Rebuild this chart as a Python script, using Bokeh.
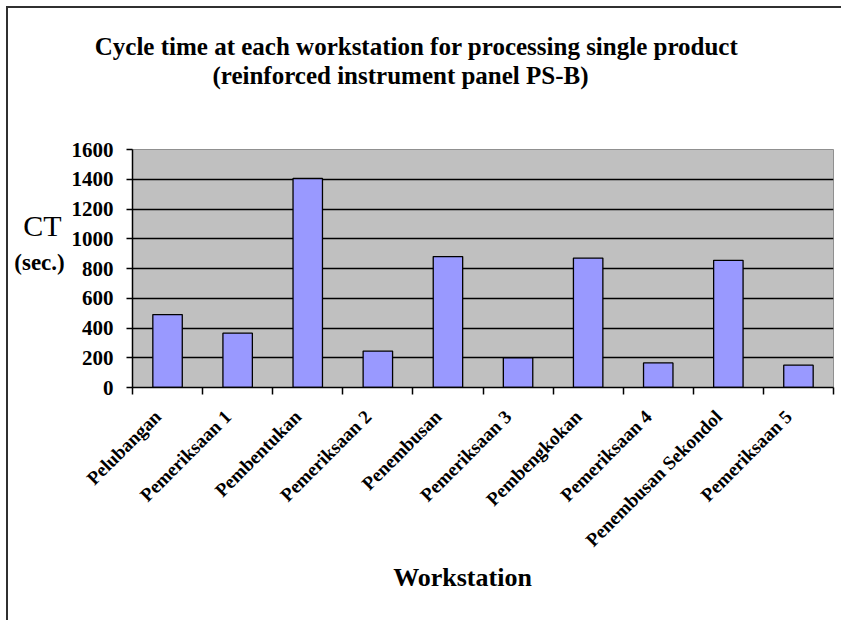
import numpy as np
from math import pi
from bokeh.plotting import figure
from bokeh.layouts import column, row
from bokeh.models import Range1d, FixedTicker, Label
from bokeh.embed import file_html
from bokeh.resources import INLINE

# ---- data ----
stations = ["Pelubangan", "Pemeriksaan 1", "Pembentukan", "Pemeriksaan 2",
            "Penembusan", "Pemeriksaan 3", "Pembengkokan", "Pemeriksaan 4",
            "Penembusan Sekondol", "Pemeriksaan 5"]
ct_sec = [490, 365, 1405, 245, 880, 200, 870, 165, 855, 150]
y_ticks = [0, 200, 400, 600, 800, 1000, 1200, 1400, 1600]
title_lines = ["Cycle time at each workstation for processing single product",
               "(reinforced instrument panel PS-B)"]
x_title = "Workstation"
y_title = "CT"
y_unit = "(sec.)"

SERIF = "Liberation Serif"
n = len(stations)
xs = np.arange(1, n + 1)

# ---- layout sizes (pixels) ----
W, TOP_H, LEFT_W = 833, 129, 60
MAIN_TOP, FRAME_H, MAIN_BOTTOM = 12, 238, 175
MAIN_H = MAIN_TOP + FRAME_H + MAIN_BOTTOM
BOT_H = 612 - TOP_H - MAIN_H
LABEL_SHIFT = 0.14   # slide rotated tick labels along their diagonal


def text_panel(w, h, top=0, bottom=0):
    f = figure(width=w, height=h, output_backend="svg", toolbar_location=None,
               x_range=Range1d(0, w), y_range=Range1d(h - top - bottom, 0),
               x_axis_type=None, y_axis_type=None,
               min_border=0, min_border_left=0, min_border_right=0,
               min_border_top=top, min_border_bottom=bottom)
    f.outline_line_color = None
    f.background_fill_color = "white"
    f.border_fill_color = "white"
    f.xgrid.visible = False
    f.ygrid.visible = False
    return f


def add_label(f, text, x, y, size, style="bold"):
    f.add_layout(Label(x=x, y=y, text=text, text_font=SERIF,
                       text_font_style=style, text_font_size=size,
                       text_color="black", text_align="center",
                       text_baseline="middle"))


# title panel
top = text_panel(W, TOP_H)
add_label(top, title_lines[0], 408, 38, "25px")
add_label(top, title_lines[1], 392, 67, "25px")

# y title panel (frame aligned with the chart frame)
left = text_panel(LEFT_W, MAIN_H, top=MAIN_TOP, bottom=MAIN_BOTTOM)
add_label(left, y_title, 34, 76, "30px", style="normal")
add_label(left, y_unit, 31, 113, "23px")

# x title panel
bottom = text_panel(W, BOT_H)
add_label(bottom, x_title, 454, 15, "26px")

# main chart
p = figure(width=W - LEFT_W, height=MAIN_H, output_backend="svg",
           toolbar_location=None,
           x_range=Range1d(0.5, n + 0.5), y_range=Range1d(y_ticks[0], y_ticks[-1]),
           min_border_left=63, min_border_right=8, min_border_top=MAIN_TOP,
           min_border_bottom=MAIN_BOTTOM)
p.background_fill_color = "#C0C0C0"
p.border_fill_color = "white"
p.outline_line_color = "#909090"
p.outline_line_width = 1

p.vbar(x=xs, top=ct_sec, width=0.42, fill_color="#9999FF",
       line_color="#000000", line_width=1.3)

p.xgrid.visible = False
p.ygrid.ticker = FixedTicker(ticks=y_ticks[1:-1])
p.ygrid.grid_line_color = "black"
p.ygrid.grid_line_width = 1.6

ya = p.yaxis[0]
ya.ticker = FixedTicker(ticks=y_ticks)
ya.axis_line_color = "black"
ya.axis_line_width = 1.5
ya.major_tick_line_color = "black"
ya.major_tick_line_width = 1.5
ya.major_tick_out = 6
ya.major_tick_in = 0
ya.minor_tick_line_color = None
ya.major_label_text_font = SERIF
ya.major_label_text_font_style = "bold"
ya.major_label_text_font_size = "21px"
ya.major_label_text_color = "black"
ya.major_label_standoff = 13

label_pos = [float(v) for v in (xs - LABEL_SHIFT)]
xa = p.xaxis[0]
xa.ticker = FixedTicker(ticks=label_pos, minor_ticks=list(np.arange(0.5, n + 1, 1.0)))
xa.major_label_overrides = {v: s for v, s in zip(label_pos, stations)}
xa.major_label_orientation = pi / 4
xa.axis_line_color = "black"
xa.axis_line_width = 1.5
xa.major_tick_out = 0
xa.major_tick_in = 0
xa.major_tick_line_color = None
xa.minor_tick_line_color = "black"
xa.minor_tick_line_width = 1.5
xa.minor_tick_out = 7
xa.minor_tick_in = 0
xa.major_label_text_font = SERIF
xa.major_label_text_font_style = "bold"
xa.major_label_text_font_size = "19px"
xa.major_label_text_color = "black"
xa.major_label_standoff = 19

layout = column(top, row(left, p), bottom)
layout.margin = (6, 0, 0, 6)
layout.styles = {"border-top": "2px solid #303030", "border-left": "2px solid #303030"}

open("out.html", "w").write(file_html(layout, INLINE))
